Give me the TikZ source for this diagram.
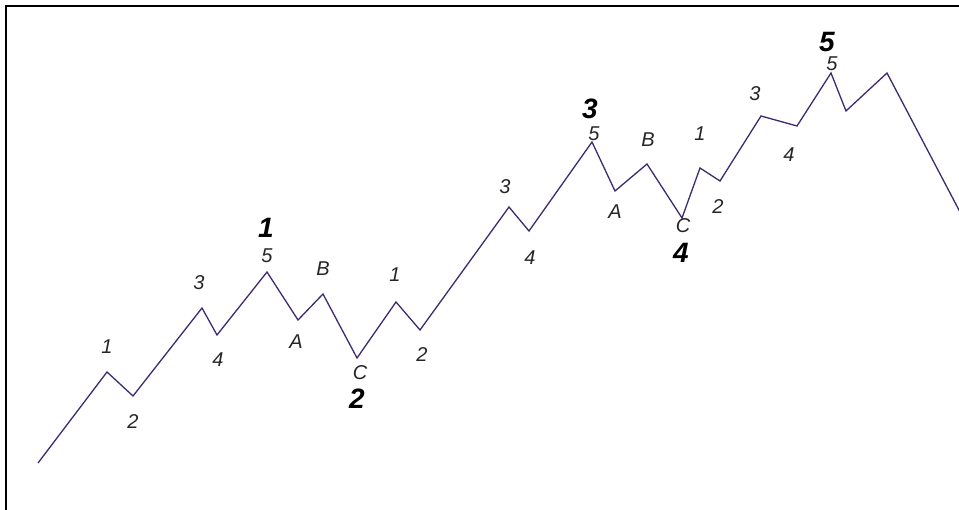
\documentclass[tikz,border=0pt]{standalone}
\usepackage{fontspec}
\setmainfont{Liberation Sans}
\definecolor{wavecol}{RGB}{62,42,112}
\begin{document}
\begin{tikzpicture}[x=1pt,y=-1pt,
    sub/.style={font=\fontsize{20}{20}\selectfont\itshape,inner sep=0pt,text=black!85},
    deg/.style={font=\fontsize{28}{28}\selectfont\bfseries\itshape,inner sep=0pt}]
    \useasboundingbox (0,0) rectangle (959,510);
    \fill[white] (0,0) rectangle (959,510);
    % frame
    \draw[line width=2.4pt] (6,510) -- (6,6) -- (959,6);
    % turning points
    \coordinate (w0) at (38,463);
    \coordinate (w1) at (107,372);
    \coordinate (w2) at (133,396);
    \coordinate (w3) at (202,308);
    \coordinate (w4) at (217,335);
    \coordinate (w5) at (267,272);
    \coordinate (wA) at (298,320);
    \coordinate (wB) at (323,294);
    \coordinate (wC) at (357,358);
    \coordinate (x1) at (396,302);
    \coordinate (x2) at (420,330);
    \coordinate (x3) at (509,207);
    \coordinate (x4) at (529,231);
    \coordinate (x5) at (592,142);
    \coordinate (xA) at (615,191);
    \coordinate (xB) at (647,164);
    \coordinate (xC) at (682,218);
    \coordinate (y1) at (700,168);
    \coordinate (y2) at (720,181);
    \coordinate (y3) at (761,116);
    \coordinate (y4) at (797,126);
    \coordinate (y5) at (831,73);
    \coordinate (zA) at (846,111);
    \coordinate (zB) at (887,73);
    \coordinate (zC) at (960,212);
    \draw[wavecol,line width=1.3pt,line join=miter]
        (w0) -- (w1) -- (w2) -- (w3) -- (w4) -- (w5) -- (wA) -- (wB) -- (wC)
        -- (x1) -- (x2) -- (x3) -- (x4) -- (x5) -- (xA) -- (xB) -- (xC)
        -- (y1) -- (y2) -- (y3) -- (y4) -- (y5) -- (zA) -- (zB) -- (zC);
    % sub-wave labels
    \node[sub] (l1) at (107,347) {1};
    \node[sub] (l2) at (133,422) {2};
    \node[sub] (l3) at (199,283) {3};
    \node[sub] (l4) at (218,360) {4};
    \node[sub] (l5) at (267,256) {5};
    \node[sub] (lA) at (296,342) {A};
    \node[sub] (lB) at (323,269) {B};
    \node[sub] (lC) at (360,373) {C};
    \node[sub] (m1) at (395,275) {1};
    \node[sub] (m2) at (422,355) {2};
    \node[sub] (m3) at (505,187) {3};
    \node[sub] (m4) at (530,258) {4};
    \node[sub] (m5) at (594,134) {5};
    \node[sub] (mA) at (615,212) {A};
    \node[sub] (mB) at (648,140) {B};
    \node[sub] (mC) at (683,226) {C};
    \node[sub] (n1) at (700,134) {1};
    \node[sub] (n2) at (718,207) {2};
    \node[sub] (n3) at (755,94) {3};
    \node[sub] (n4) at (789,155) {4};
    \node[sub] (n5) at (832,64) {5};
    % main wave labels
    \node[deg] (d1) at (266,228) {1};
    \node[deg] (d2) at (357,399) {2};
    \node[deg] (d3) at (590,109) {3};
    \node[deg] (d4) at (681,253) {4};
    \node[deg] (d5) at (827,42) {5};
\end{tikzpicture}
\end{document}
